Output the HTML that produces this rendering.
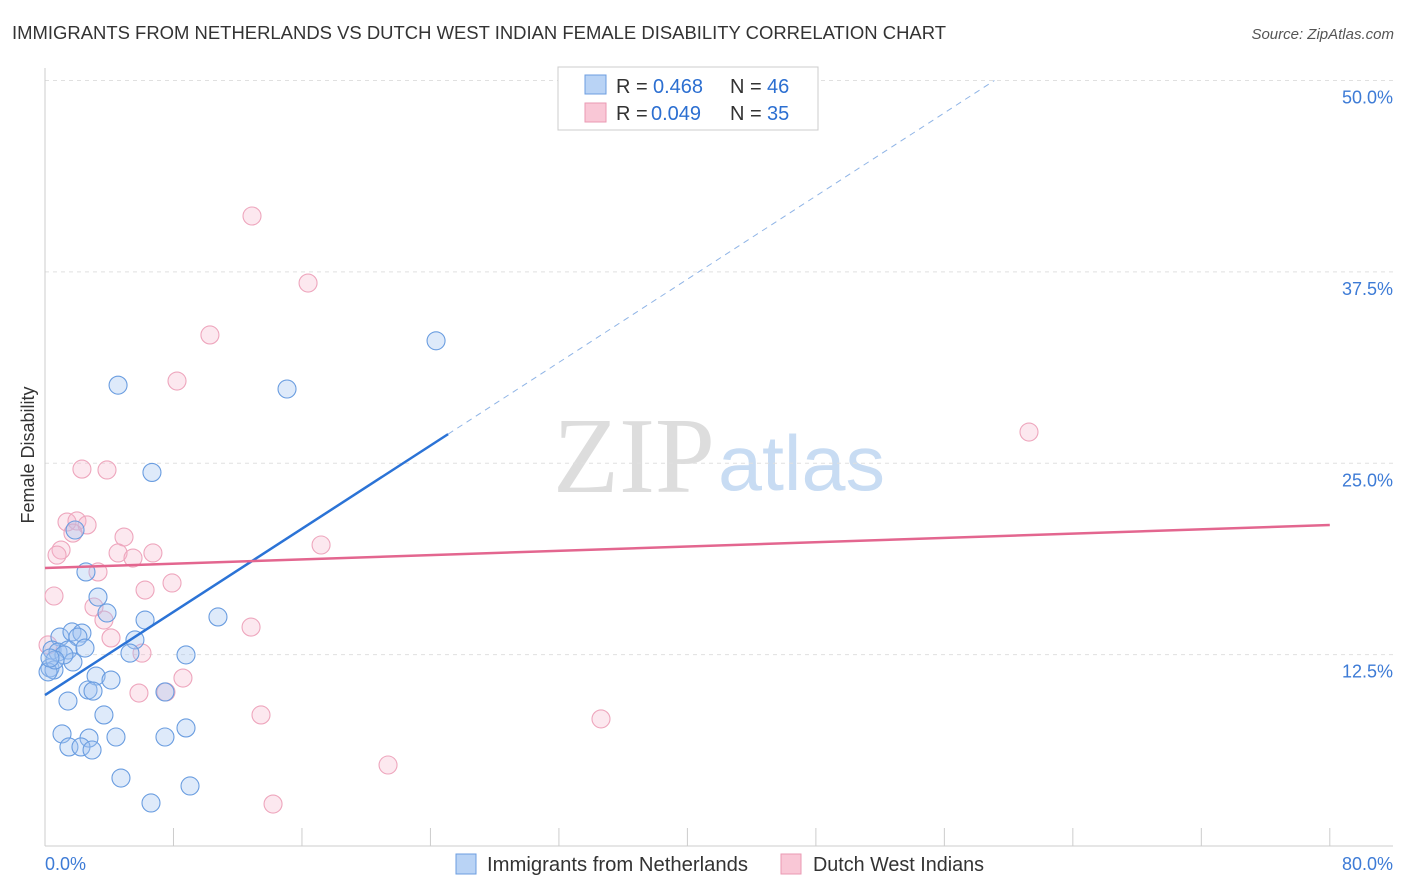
<!DOCTYPE html>
<html><head><meta charset="utf-8"><style>
body{margin:0;background:#fff;font-family:"Liberation Sans",sans-serif}
svg{display:block}
</style></head><body>
<svg id="c" width="1406" height="892" xmlns="http://www.w3.org/2000/svg">
<text x="12" y="39" font-size="18" fill="#333" textLength="934" lengthAdjust="spacingAndGlyphs">IMMIGRANTS FROM NETHERLANDS VS DUTCH WEST INDIAN FEMALE DISABILITY CORRELATION CHART</text>
<text x="1394" y="39" font-size="15" fill="#555" font-style="italic" text-anchor="end">Source: ZipAtlas.com</text>
<g>
<text x="553" y="492" font-size="108" font-family="Liberation Serif,serif" fill="#ddd" textLength="162" lengthAdjust="spacingAndGlyphs">ZIP</text>
<text x="718" y="490" font-size="78" fill="#c8dcf3" textLength="167" lengthAdjust="spacingAndGlyphs">atlas</text>
</g>
<g id="grid"></g>
<g id="axes"></g>
<g id="pts"></g>
<g id="trend"></g>
<text transform="translate(34,455) rotate(-90)" font-size="18" fill="#333" text-anchor="middle">Female Disability</text>
<g>
<rect x="558" y="67" width="260" height="63" fill="#fff" stroke="#ccc"/>
<rect x="585" y="75" width="21" height="19" fill="#b9d3f5" stroke="#6c9ee0"/>
<rect x="585" y="103" width="21" height="19" fill="#f9c7d6" stroke="#ea9ab3"/>
<text x="616" y="93" font-size="20" fill="#333">R = </text><text x="653" y="93" font-size="20" fill="#2c6fd1">0.468</text>
<text x="730" y="93" font-size="20" fill="#333">N = </text><text x="767" y="93" font-size="20" fill="#2c6fd1">46</text>
<text x="616" y="120" font-size="20" fill="#333">R = </text><text x="651" y="120" font-size="20" fill="#2c6fd1">0.049</text>
<text x="730" y="120" font-size="20" fill="#333">N = </text><text x="767" y="120" font-size="20" fill="#2c6fd1">35</text>
</g>
<g>
<rect x="456" y="854" width="20" height="20" fill="#b9d3f5" stroke="#6c9ee0"/>
<text x="487" y="871" font-size="20" fill="#333" textLength="261" lengthAdjust="spacingAndGlyphs">Immigrants from Netherlands</text>
<rect x="781" y="854" width="20" height="20" fill="#f9c7d6" stroke="#ea9ab3"/>
<text x="813" y="871" font-size="20" fill="#333" textLength="171" lengthAdjust="spacingAndGlyphs">Dutch West Indians</text>
</g>
</svg>
<script>
const blueX=[4.55,6.66,15.07,24.35,2.55,3.3,3.86,6.23,10.77,0.93,1.68,2.3,2.05,0.44,0.81,1.43,2.49,5.6,5.29,8.78,0.31,0.56,1.74,3.18,4.11,2.68,2.99,7.47,1.43,3.67,8.78,1.06,2.74,4.42,7.47,1.49,2.24,2.93,4.73,9.03,6.6,1.87,0.19,1.18,0.62,0.31];
const blueY=[30.1,24.4,29.85,33.0,17.9,16.26,15.22,14.76,14.96,13.65,13.98,13.91,13.65,12.8,12.67,12.8,12.93,13.46,12.6,12.48,11.63,11.5,12.02,11.1,10.84,10.19,10.12,10.06,9.47,8.56,7.71,7.32,7.05,7.12,7.12,6.47,6.47,6.27,4.44,3.92,2.81,20.64,11.37,12.48,12.15,12.28];
const pinkX=[12.89,16.38,10.27,8.22,61.27,2.3,3.86,1.37,1.99,2.62,1.74,4.92,1.0,0.75,4.55,5.48,6.72,17.19,3.3,0.56,6.23,7.91,3.05,3.67,4.11,12.83,6.04,0.19,8.59,5.85,7.53,13.45,34.62,21.36,14.2];
const pinkY=[41.15,36.77,33.38,30.37,27.04,24.62,24.56,21.16,21.23,20.97,20.44,20.18,19.33,19.0,19.14,18.81,19.14,19.66,17.9,16.33,16.72,17.18,15.61,14.76,13.59,14.3,12.6,13.13,10.97,9.99,10.06,8.56,8.3,5.29,2.74];
const yTicks=[12.5,25,37.5,50];
const yTickLabels=["12.5%","25.0%","37.5%","50.0%"];
const xTicks=[0,8,16,24,32,40,48,56,64,72,80];
const blueTrend=[9.86,0.679];
const pinkTrend=[18.16,0.0351];
const NS="http://www.w3.org/2000/svg";
const sx=v=>45+v*16.06, sy=v=>846-v*15.31;
function mk(p,t,a){const e=document.createElementNS(NS,t);for(const k in a)e.setAttribute(k,a[k]);p.appendChild(e);return e;}
const grid=document.getElementById('grid'),axes=document.getElementById('axes'),pts=document.getElementById('pts'),tr=document.getElementById('trend');
yTicks.forEach((t,i)=>{
 const l=mk(grid,'line',{x1:45,x2:1393,y1:sy(t),y2:sy(t),stroke:'#e0e0e0','stroke-dasharray':'4,4'});
 
 
 const tx=mk(axes,'text',{x:1393,y:sy(t)+23,'font-size':18,fill:'#3d7bd6','text-anchor':'end'});
 tx.textContent=yTickLabels[i];
 
 
});
const ya=mk(axes,'line',{x1:45,x2:45,y1:68,y2:846,stroke:'#ccc'});


const xa=mk(axes,'line',{x1:45,x2:1393,y1:846,y2:846,stroke:'#ccc'});


xTicks.forEach(t=>{const l=mk(axes,'line',{x1:sx(t),x2:sx(t),y1:828,y2:846,stroke:'#ccc'});
 
 });
const x0=mk(axes,'text',{x:45,y:870,'font-size':18,fill:'#3d7bd6'});x0.textContent='0.0%';


const x1=mk(axes,'text',{x:1393,y:870,'font-size':18,fill:'#3d7bd6','text-anchor':'end'});x1.textContent='80.0%';


pinkX.forEach((v,i)=>{const c=mk(pts,'circle',{cx:sx(v),cy:sy(pinkY[i]),r:9,fill:'rgba(246,180,202,0.3)',stroke:'#eea6bd','stroke-width':1.1});
 
 });
blueX.forEach((v,i)=>{const c=mk(pts,'circle',{cx:sx(v),cy:sy(blueY[i]),r:9,fill:'rgba(160,195,240,0.35)',stroke:'#6a9de0','stroke-width':1.1});
 
 });
const bEnd=25.1, bTop=(50-blueTrend[0])/blueTrend[1];
const bl=mk(tr,'line',{x1:sx(0),y1:sy(blueTrend[0]),x2:sx(bEnd),y2:sy(blueTrend[0]+blueTrend[1]*bEnd),stroke:'#2b73d6','stroke-width':2.5});


const bd=mk(tr,'line',{x1:sx(bEnd),y1:sy(blueTrend[0]+blueTrend[1]*bEnd),x2:sx(bTop),y2:sy(50),stroke:'#8fb4e6','stroke-width':1,'stroke-dasharray':'6,5'});


const pl=mk(tr,'line',{x1:sx(0),y1:sy(pinkTrend[0]),x2:sx(80),y2:sy(pinkTrend[0]+pinkTrend[1]*80),stroke:'#e3668f','stroke-width':2.5});


</script>
</body></html>
